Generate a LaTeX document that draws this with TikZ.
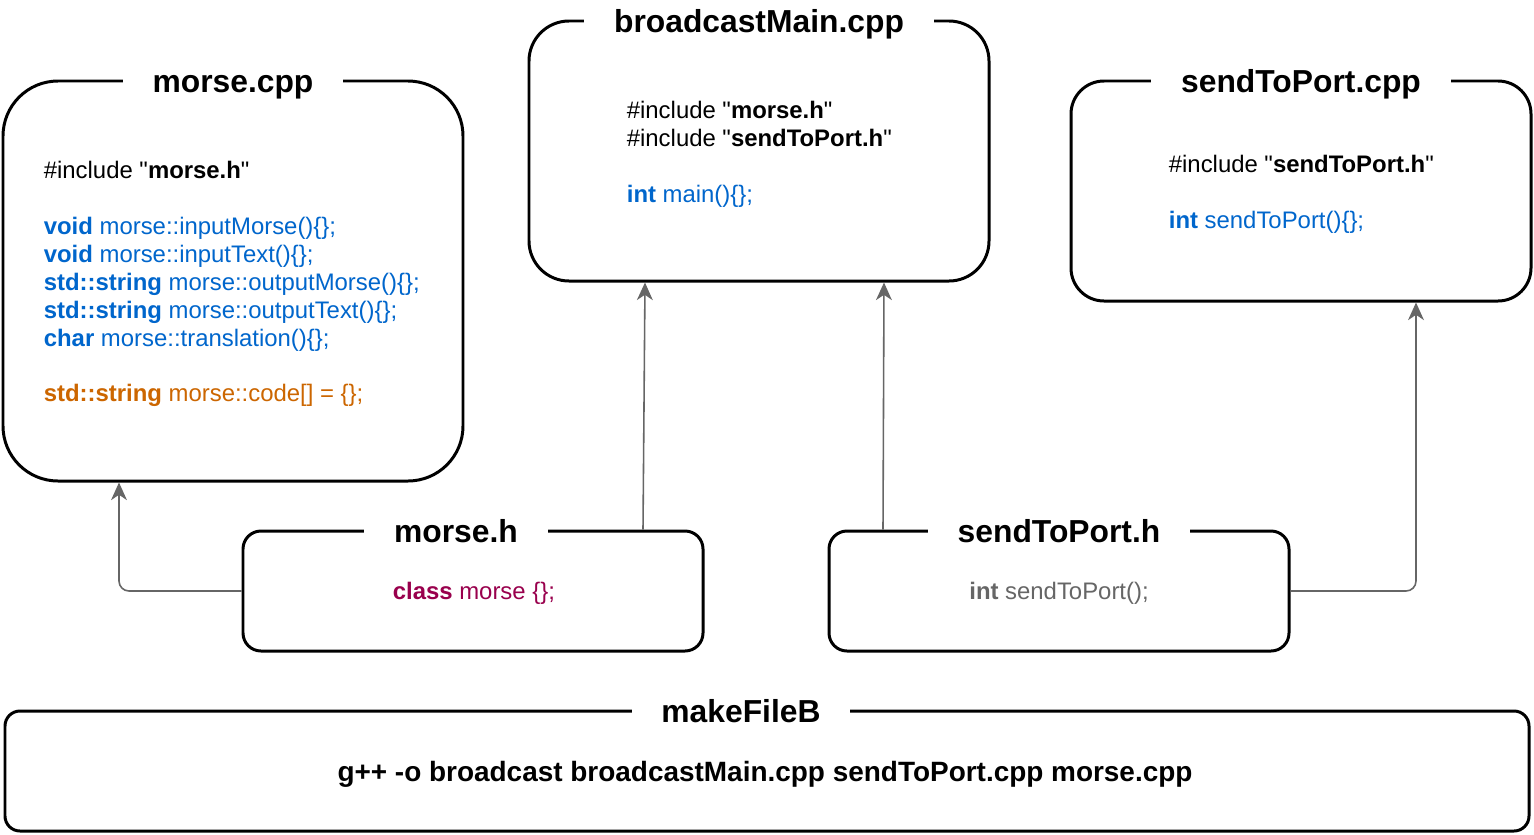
\documentclass[tikz,border=0pt]{standalone}
\usepackage{fontspec}
\setmainfont{Liberation Sans}
\usetikzlibrary{arrows.meta,positioning,calc}
\definecolor{codeblue}{RGB}{0,102,204}
\definecolor{codeorange}{RGB}{204,102,0}
\definecolor{codeclass}{RGB}{153,0,77}
\definecolor{codegrey}{RGB}{102,102,102}

\begin{document}
\begin{tikzpicture}[
  filebox/.style={draw, line width=1.7pt, minimum width=9.2cm, minimum height=2.4cm},
  title/.style={fill=white, inner xsep=17pt, inner ysep=2pt, anchor=base, font=\fontsize{18.1}{21.7}\selectfont\bfseries},
  code/.style={anchor=west, align=left, inner sep=0pt, font=\fontsize{13.6}{15.9}\selectfont},
  arr/.style={-{Stealth[length=10pt,width=9pt,inset=3pt]}, codegrey, line width=0.9pt, rounded corners=0.2cm},
]
\path[use as bounding box, fill=white] (0,0) rectangle (30.68,-16.68);

% SOURCE FILES
\node[filebox, rounded corners=1.1cm, minimum height=8cm] (morsecpp) at (4.66,-5.62) {};
\node[filebox, rounded corners=0.8cm, minimum height=5.2cm] (maincpp) at (15.18,-3.02) {};
\node[filebox, rounded corners=0.66cm, minimum height=4.4cm] (portcpp) at (26.02,-3.82) {};

% HEADERS
\node[filebox, rounded corners=0.36cm] (morseh) at (9.46,-11.82) {};
\node[filebox, rounded corners=0.36cm] (porth) at (21.18,-11.82) {};

% MAKEFILE
\node[filebox, rounded corners=0.3cm, minimum width=30.48cm] (makeb) at (15.34,-15.42) {};

% includes
\draw[arr] (morseh.west) -| ([xshift=-2.28cm]morsecpp.south);
\draw[arr] ([xshift=3.4cm]morseh.north) -- ([xshift=-2.28cm]maincpp.south);
\draw[arr] ([xshift=-3.52cm]porth.north) -- ([xshift=2.5cm]maincpp.south);
\draw[arr] (porth.east) -| ([xshift=2.3cm]portcpp.south);

% titles
\node[title] (morsecpptitle) at ([yshift=-0.26cm]morsecpp.north) {morse.cpp};
\node[title] (maincpptitle) at ([yshift=-0.26cm]maincpp.north) {broadcastMain.cpp};
\node[title] (portcpptitle) at ([yshift=-0.26cm]portcpp.north) {sendToPort.cpp};
\node[title] (morsehtitle) at ([xshift=-0.34cm,yshift=-0.26cm]morseh.north) {morse.h};
\node[title] (porthtitle) at ([yshift=-0.26cm]porth.north) {sendToPort.h};
\node[title] (makebtitle) at ([xshift=-0.52cm,yshift=-0.26cm]makeb.north) {makeFileB};

% code
\node[code] (morsecppcode) at ([xshift=0.84cm,yshift=-0.06cm]morsecpp.west) {
  \#include \textquotedbl\textbf{morse.h}\textquotedbl\\
  ~\\
  {\color{codeblue}\textbf{void} morse::inputMorse()\{\};}\\
  {\color{codeblue}\textbf{void} morse::inputText()\{\};}\\
  {\color{codeblue}\textbf{std::string} morse::outputMorse()\{\};}\\
  {\color{codeblue}\textbf{std::string} morse::outputText()\{\};}\\
  {\color{codeblue}\textbf{char} morse::translation()\{\};}\\
  ~\\
  {\color{codeorange}\textbf{std::string} morse::code[] = \{\};}
};
\node[code] (maincppcode) at ([xshift=1.98cm,yshift=-0.06cm]maincpp.west) {
  \#include \textquotedbl\textbf{morse.h}\textquotedbl\\
  \#include \textquotedbl\textbf{sendToPort.h}\textquotedbl\\
  ~\\
  {\color{codeblue}\textbf{int} main()\{\};}
};
\node[code] (portcppcode) at ([xshift=1.98cm,yshift=-0.06cm]portcpp.west) {
  \#include \textquotedbl\textbf{sendToPort.h}\textquotedbl\\
  ~\\
  {\color{codeblue}\textbf{int} sendToPort()\{\};}
};
\node[code, text=codeclass] (morsehcode) at ([xshift=3.02cm,yshift=-0.04cm]morseh.west) {\textbf{class} morse \{\};};
\node[code, anchor=center, text=codegrey] (porthcode) at ([yshift=-0.04cm]porth.center) {\textbf{int} sendToPort();};
\node[code, anchor=center, font=\fontsize{15.9}{18.6}\selectfont\bfseries] (makebcode) at ([xshift=-0.04cm,yshift=-0.06cm]makeb.center) {g++ -o broadcast broadcastMain.cpp sendToPort.cpp morse.cpp};
\end{tikzpicture}
\end{document}
